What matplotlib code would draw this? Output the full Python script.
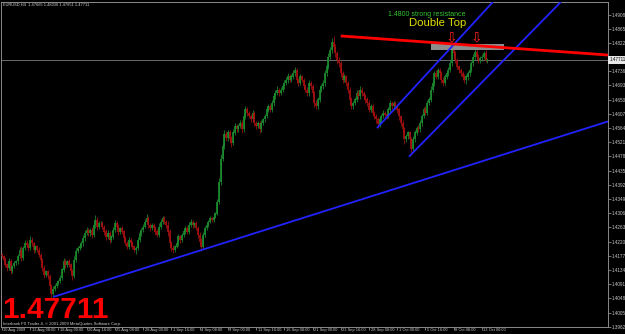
import matplotlib
matplotlib.use("Agg")
import matplotlib.pyplot as plt
import matplotlib.transforms as mtransforms
import numpy as np

# ---------------- data (EURUSD H4) ----------------
first_open = 1.4180
closes = [
    1.4175, 1.4165,                                   # Aug 10
    1.4150, 1.4140, 1.4160, 1.4130, 1.4145, 1.4155,   # Aug 11
    1.4160, 1.4175, 1.4195, 1.4170, 1.4200, 1.4215,   # Aug 12
    1.4210, 1.4200, 1.4225, 1.4215, 1.4195, 1.4205,   # Aug 13
    1.4195, 1.4180, 1.4165, 1.4140, 1.4120, 1.4130,   # Aug 14
    1.4115, 1.4085, 1.4060, 1.4075, 1.4085, 1.4095,   # Aug 17
    1.4100, 1.4110, 1.4135, 1.4160, 1.4150, 1.4160,   # Aug 18
    1.4150, 1.4130, 1.4115, 1.4165, 1.4190, 1.4200,   # Aug 19
    1.4205, 1.4215, 1.4230, 1.4245, 1.4255, 1.4245,   # Aug 20
    1.4255, 1.4240, 1.4270, 1.4285, 1.4265, 1.4275,   # Aug 21
    1.4275, 1.4265, 1.4250, 1.4235, 1.4245, 1.4225,   # Aug 24
    1.4235, 1.4255, 1.4275, 1.4265, 1.4250, 1.4260,   # Aug 25
    1.4250, 1.4230, 1.4215, 1.4205, 1.4225, 1.4215,   # Aug 26
    1.4205, 1.4195, 1.4200, 1.4225, 1.4245, 1.4255,   # Aug 27
    1.4265, 1.4280, 1.4290, 1.4270, 1.4260, 1.4270,   # Aug 28
    1.4260, 1.4250, 1.4240, 1.4265, 1.4280, 1.4290,   # Aug 31
    1.4280, 1.4270, 1.4250, 1.4215, 1.4200, 1.4195,   # Sep 1
    1.4205, 1.4215, 1.4235, 1.4225, 1.4240, 1.4250,   # Sep 2
    1.4260, 1.4250, 1.4270, 1.4280, 1.4270, 1.4275,   # Sep 3
    1.4260, 1.4240, 1.4220, 1.4205, 1.4240, 1.4260,   # Sep 4
    1.4270, 1.4280, 1.4290, 1.4285, 1.4295, 1.4305,   # Sep 7
    1.4340, 1.4400, 1.4470, 1.4510, 1.4545, 1.4535,   # Sep 8
    1.4550, 1.4530, 1.4520, 1.4550, 1.4570, 1.4560,   # Sep 9
    1.4570, 1.4580, 1.4560, 1.4600, 1.4620, 1.4610,   # Sep 10
    1.4600, 1.4590, 1.4610, 1.4580, 1.4570, 1.4580,   # Sep 11
    1.4560, 1.4580, 1.4590, 1.4600, 1.4620, 1.4630,   # Sep 14
    1.4620, 1.4640, 1.4660, 1.4670, 1.4680, 1.4670,   # Sep 15
    1.4680, 1.4690, 1.4700, 1.4710, 1.4720, 1.4710,   # Sep 16
    1.4720, 1.4730, 1.4740, 1.4710, 1.4700, 1.4720,   # Sep 17
    1.4710, 1.4690, 1.4680, 1.4670, 1.4700, 1.4690,   # Sep 18
    1.4670, 1.4640, 1.4630, 1.4650, 1.4680, 1.4690,   # Sep 21
    1.4700, 1.4730, 1.4750, 1.4780, 1.4800, 1.4825,   # Sep 22
    1.4810, 1.4790, 1.4770, 1.4760, 1.4730, 1.4710,   # Sep 23
    1.4720, 1.4700, 1.4680, 1.4650, 1.4630, 1.4640,   # Sep 24
    1.4650, 1.4670, 1.4660, 1.4680, 1.4670, 1.4660,   # Sep 25
    1.4650, 1.4640, 1.4620, 1.4630, 1.4610, 1.4600,   # Sep 28
    1.4590, 1.4575, 1.4590, 1.4600, 1.4610, 1.4605,   # Sep 29
    1.4600, 1.4620, 1.4640, 1.4630, 1.4640, 1.4630,   # Sep 30
    1.4620, 1.4600, 1.4580, 1.4560, 1.4530, 1.4540,   # Oct 1
    1.4550, 1.4530, 1.4500, 1.4530, 1.4550, 1.4565,   # Oct 2
    1.4560, 1.4580, 1.4600, 1.4620, 1.4610, 1.4640,   # Oct 5
    1.4650, 1.4680, 1.4700, 1.4730, 1.4720, 1.4740,   # Oct 6
    1.4730, 1.4710, 1.4700, 1.4720, 1.4730, 1.4740,   # Oct 7
    1.4760, 1.4800, 1.4790, 1.4770, 1.4750, 1.4740,   # Oct 8
    1.4730, 1.4720, 1.4710, 1.4720, 1.4730, 1.4740,   # Oct 9
    1.4760, 1.4780, 1.4795, 1.4780, 1.4770, 1.4775,   # Oct 12
    1.4780, 1.4790, 1.47665, 1.47711,                 # Oct 13
]
# wick lengths beyond the candle body, in pips (upper / lower)
wick_up = [
    6, 5,
    7, 5, 9, 6, 5, 6,
    4, 6, 8, 12, 7, 9,
    10, 6, 12, 8, 5, 6,
    5, 7, 6, 4, 8, 5,
    4, 6, 5, 10, 7, 6,
    5, 8, 6, 9, 7, 5,
    6, 5, 8, 12, 9, 6,
    7, 8, 10, 9, 8, 6,
    6, 9, 12, 15, 8, 7,
    8, 6, 5, 7, 9, 6,
    5, 8, 10, 6, 7, 5,
    6, 5, 7, 6, 9, 5,
    6, 5, 7, 9, 8, 6,
    7, 9, 12, 6, 5, 6,
    5, 6, 7, 10, 8, 6,
    7, 6, 12, 8, 6, 9,
    6, 8, 7, 5, 6, 7,
    6, 7, 8, 9, 6, 5,
    7, 6, 8, 12, 9, 6,
    5, 6, 7, 5, 6, 5,
    8, 12, 15, 10, 14, 9,
    8, 7, 9, 12, 10, 6,
    7, 9, 8, 10, 12, 7,
    6, 8, 9, 7, 6, 5,
    6, 7, 5, 8, 9, 6,
    7, 8, 10, 9, 11, 6,
    7, 8, 9, 10, 12, 7,
    8, 9, 10, 6, 7, 8,
    6, 7, 8, 9, 10, 6,
    6, 7, 8, 9, 10, 8,
    9, 10, 8, 12, 10, 11,
    18, 9, 8, 10, 7, 6,
    8, 6, 7, 9, 8, 6,
    7, 9, 8, 10, 7, 6,
    8, 7, 9, 6, 7, 5,
    6, 8, 7, 6, 9, 7,
    6, 8, 10, 7, 6, 5,
    7, 6, 5, 8, 6, 7,
    6, 5, 7, 9, 8, 6,
    7, 8, 6, 9, 10, 8,
    9, 10, 8, 7, 9, 6,
    7, 6, 8, 9, 7, 8,
    10, 16, 8, 7, 6, 5,
    7, 6, 8, 9, 7, 6,
    8, 9, 17, 8, 7, 6,
    7, 6, 32, 6,
]
wick_dn = [
    5, 6,
    6, 8, 5, 9, 6, 5,
    5, 7, 6, 8, 6, 7,
    8, 9, 6, 7, 10, 6,
    6, 8, 7, 9, 10, 6,
    7, 9, 15, 8, 6, 7,
    6, 5, 7, 8, 9, 6,
    7, 9, 12, 6, 7, 5,
    6, 5, 8, 7, 6, 9,
    7, 10, 6, 8, 9, 6,
    7, 8, 9, 10, 6, 9,
    7, 6, 5, 8, 9, 6,
    7, 8, 6, 9, 7, 8,
    9, 8, 12, 6, 5, 7,
    6, 5, 8, 9, 7, 6,
    8, 9, 7, 5, 6, 7,
    6, 8, 12, 15, 10, 9,
    8, 6, 7, 8, 6, 5,
    6, 8, 7, 6, 9, 7,
    6, 8, 9, 14, 7, 6,
    5, 6, 5, 7, 6, 5,
    6, 5, 8, 7, 9, 10,
    9, 10, 12, 7, 6, 8,
    7, 6, 10, 7, 8, 9,
    7, 8, 6, 10, 9, 7,
    12, 7, 6, 8, 7, 6,
    7, 6, 8, 7, 6, 8,
    6, 7, 8, 6, 9, 7,
    7, 6, 9, 11, 10, 7,
    8, 9, 7, 10, 8, 7,
    9, 12, 8, 7, 6, 8,
    7, 9, 8, 6, 7, 8,
    9, 10, 11, 12, 10, 9,
    8, 9, 10, 12, 9, 8,
    7, 8, 9, 7, 8, 6,
    9, 10, 8, 7, 9, 8,
    10, 12, 9, 8, 7, 9,
    8, 7, 9, 8, 10, 9,
    9, 11, 10, 12, 14, 8,
    9, 10, 17, 8, 7, 6,
    8, 7, 9, 6, 8, 7,
    6, 7, 8, 9, 8, 7,
    9, 10, 8, 7, 6, 8,
    7, 8, 9, 10, 8, 9,
    8, 9, 10, 12, 9, 8,
    7, 8, 9, 7, 8, 9,
    7, 6, 1, 6,
]
date_labels = ["10 Aug 2009", "13 Aug 08:00", "18 Aug 00:00", "20 Aug 16:00",
               "25 Aug 08:00", "28 Aug 00:00", "1 Sep 16:00", "4 Sep 08:00",
               "9 Sep 00:00", "11 Sep 16:00", "16 Sep 08:00", "21 Sep 00:00",
               "23 Sep 16:00", "28 Sep 08:00", "1 Oct 00:00", "5 Oct 16:00",
               "8 Oct 08:00", "13 Oct 00:00"]
date_label_bars = [0, 16, 32, 48, 64, 80, 96, 112, 128, 144, 160, 176,
                   192, 208, 224, 240, 256, 272]
price_ticks = [1.49080, 1.48650, 1.48220, 1.47360, 1.46930, 1.46500, 1.46070,
               1.45640, 1.45210, 1.44780, 1.44350, 1.43920, 1.43490, 1.43060,
               1.42630, 1.42200, 1.41770, 1.41340, 1.40910, 1.40480, 1.40050,
               1.39620]
current_price = 1.47711
header_ohlc = "EURUSD,H4  1.47665 1.48030 1.47651 1.47711"
# trend lines (bar index, price) endpoints
support_line = [(29, 1.4052), (344, 1.4585)]
resistance_line = [(192, 1.4843), (344, 1.4785)]
channel_low = [(230.6, 1.4477), (316.7, 1.4946)]
channel_high = [(212.5, 1.4564), (278.2, 1.4946)]
resist_box = [(243, 1.4800), (284.4, 1.4818)]
arrow_bars = [254.7, 268.6]
arrow_price = 1.4838

# ---------------- figure ----------------
W, H = 625, 334
SMALL = "Liberation Sans"
fig = plt.figure(figsize=(W / 100, H / 100), dpi=100, facecolor="#000000")
ax = fig.add_axes([1 / W, (H - 326.7) / H, 607 / W, 324.7 / H])
ax.set_facecolor("#000000")

n = len(closes)
idx = np.arange(n)
c = np.array(closes)
o = np.concatenate([[first_open], c[:-1]])
hi = np.maximum(o, c) + np.array(wick_up) / 10000.0
lo = np.minimum(o, c) - np.array(wick_dn) / 10000.0
up = c >= o
green, red = "#1c8f30", "#a81010"
cols = np.where(up, green, red)

ax.vlines(idx, lo, hi, colors=cols, linewidth=0.55, zorder=3)
ax.vlines(idx, np.minimum(o, c), np.maximum(o, c) + 0.00005, colors=cols,
          linewidth=1.2, zorder=3)

# current price line
ax.axhline(current_price, color="#7a7a7a", linewidth=0.6, zorder=2)

# resistance box
ax.fill_between([resist_box[0][0], resist_box[1][0]], resist_box[0][1],
                resist_box[1][1], color="#8c8c8c", zorder=4, linewidth=0)

# trend lines
for ln, col, lw in [(support_line, "#2222ff", 1.3),
                    (channel_low, "#2222ff", 1.3),
                    (channel_high, "#2222ff", 1.3),
                    (resistance_line, "#ff0000", 2.0)]:
    ax.plot([ln[0][0], ln[1][0]], [ln[0][1], ln[1][1]], color=col,
            linewidth=lw, zorder=5, solid_capstyle="butt")

# arrows
for b in arrow_bars:
    ax.text(b, arrow_price, "\u21e9", color="#ff2020", fontsize=10,
            ha="center", va="center", zorder=6, family="DejaVu Sans")

ax.text(240.8, 1.4909, "1.4800 strong resistance", color="#33c433",
        fontsize=5, ha="center", va="center", family=SMALL, zorder=6)
ax.text(247.0, 1.4883, "Double Top", color="#e0e000", fontsize=8.2,
        ha="center", va="center", family=SMALL, zorder=6)

ax.set_xlim(-0.5, 343.4)
ax.set_ylim(1.39620, 1.49459)

for s in ax.spines.values():
    s.set_color("#8a8a8a")
    s.set_linewidth(0.7)

ax.yaxis.tick_right()
ax.set_yticks(price_ticks)
ax.set_yticklabels([f"{p:.5f}" for p in price_ticks])
ax.tick_params(axis="y", colors="#8a8a8a", labelcolor="#c8c8c8",
               length=2, width=0.6, pad=1.0, labelsize=3.3)
ax.set_xticks(date_label_bars)
ax.set_xticklabels(date_labels, ha="left")
ax.tick_params(axis="x", colors="#8a8a8a", labelcolor="#c8c8c8",
               length=2.5, width=0.6, pad=-1.6, labelsize=2.9)
off = mtransforms.ScaledTranslation(1.5 / 100, 0, fig.dpi_scale_trans)
for lab in ax.get_xticklabels():
    lab.set_transform(lab.get_transform() + off)
    lab.set_family(SMALL)
for lab in ax.get_yticklabels():
    lab.set_family(SMALL)

# current price box on the axis
trans = mtransforms.blended_transform_factory(ax.transAxes, ax.transData)
ax.text(1.003, current_price, f"{current_price:.5f}", transform=trans,
        ha="left", va="center", fontsize=3.3, color="#000000", family=SMALL,
        bbox=dict(boxstyle="square,pad=0.3", fc="#e8e8e8", ec="none"),
        clip_on=False, zorder=10)

# screen texts
fig.text(3 / W, 1 - 5 / H, header_ohlc, color="#d0d0d0", fontsize=2.9,
         family=SMALL, ha="left", va="center")
fig.text(2 / W, 1 - 309.5 / H, f"{current_price:.5f}", color="#ff0000",
         fontsize=21.5, fontweight="bold", family=SMALL,
         ha="left", va="center")
fig.text(3 / W, 1 - 324.0 / H,
         "Interbank FX Trader 4, \u00a9 2001-2009 MetaQuotes Software Corp.",
         color="#d0d0d0", fontsize=3.0, family=SMALL, ha="left", va="center")

fig.savefig("out.png", dpi=100, facecolor=fig.get_facecolor())
